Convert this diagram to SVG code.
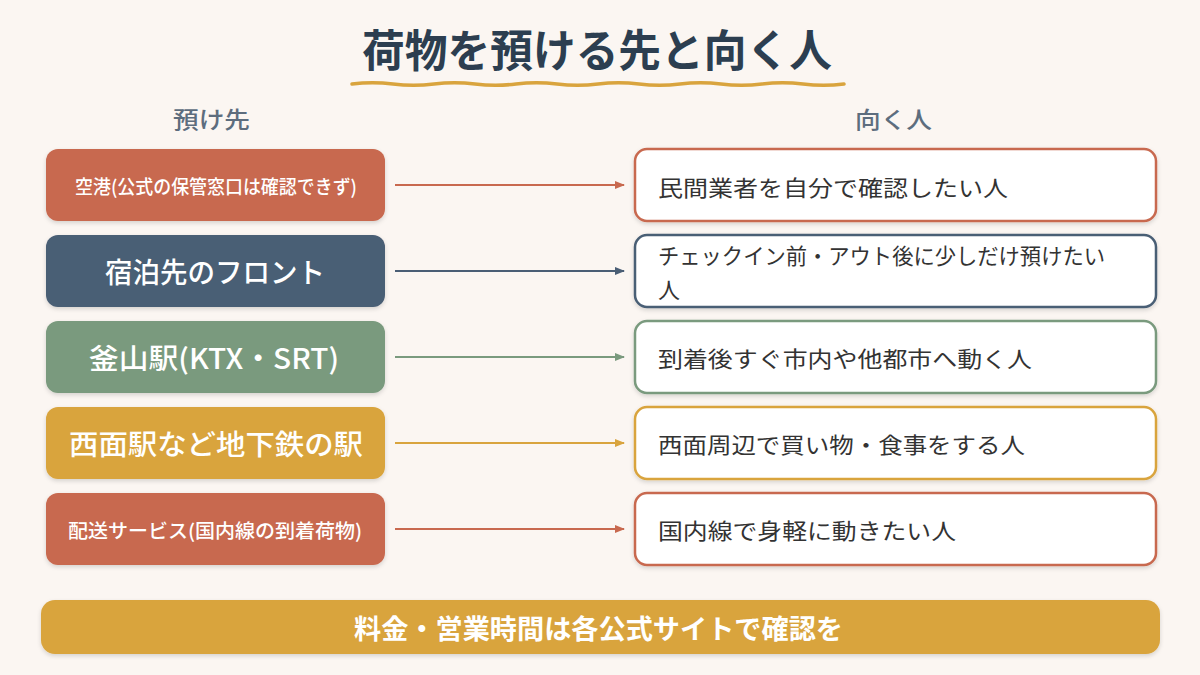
<svg xmlns="http://www.w3.org/2000/svg" width="1200" height="675" viewBox="0 0 1200 675">
<defs>
<filter id="sh" x="-10%" y="-20%" width="120%" height="150%"><feDropShadow dx="0" dy="2" stdDeviation="2" flood-color="#000" flood-opacity="0.15"/></filter>
<marker id="ah-t" markerWidth="10" markerHeight="8" refX="9" refY="4" orient="auto" markerUnits="userSpaceOnUse"><path d="M0,0 L10,4 L0,8 Z" fill="#C8694F"/></marker>
<marker id="ah-s" markerWidth="10" markerHeight="8" refX="9" refY="4" orient="auto" markerUnits="userSpaceOnUse"><path d="M0,0 L10,4 L0,8 Z" fill="#4A5E75"/></marker>
<marker id="ah-g" markerWidth="10" markerHeight="8" refX="9" refY="4" orient="auto" markerUnits="userSpaceOnUse"><path d="M0,0 L10,4 L0,8 Z" fill="#7A9A7E"/></marker>
<marker id="ah-y" markerWidth="10" markerHeight="8" refX="9" refY="4" orient="auto" markerUnits="userSpaceOnUse"><path d="M0,0 L10,4 L0,8 Z" fill="#D9A43E"/></marker>
</defs>
<style>
text{font-family:"Noto Sans CJK JP","Noto Sans",sans-serif}
.title{font-size:44px;font-weight:700;fill:#2C3E50}
.hdr{font-size:23px;font-weight:500;fill:#5D6D7E}
.lb{filter:url(#sh)}
.lt{fill:#fff;font-weight:500;dominant-baseline:central}
.s{font-size:19px}
.b{font-size:28px}
.rb{fill:#fff;stroke-width:2.5;filter:url(#sh)}
.rt{font-size:22px;fill:#333;dominant-baseline:central}
.ln{stroke-width:2;fill:none}
</style>
<rect width="1200" height="675" fill="#FBF6F2"/>
<g id="title">
<text class="title" x="362" y="67" textLength="470" lengthAdjust="spacingAndGlyphs">荷物を預ける先と向く人</text>
<path d="M352,84 q20.5,-2.5 41,0 t41,0 t41,0 t41,0 t41,0 t41,0 t41,0 t41,0 t41,0 t41,0 t41,0 t41,0" fill="none" stroke="#D9A43E" stroke-width="3.5" stroke-linecap="round"/>
</g>
<g id="headers">
<text class="hdr" x="173" y="128" textLength="77" lengthAdjust="spacingAndGlyphs">預け先</text>
<text class="hdr" x="855" y="128" textLength="77" lengthAdjust="spacingAndGlyphs">向く人</text>
</g>
<g id="src1"><rect class="lb" x="46" y="149" width="339" height="72" rx="12" fill="#C8694F"/><text class="lt s" x="75" y="185" textLength="282" lengthAdjust="spacingAndGlyphs">空港(公式の保管窓口は確認できず)</text></g>
<g id="src2"><rect class="lb" x="46" y="235" width="339" height="72" rx="12" fill="#4A5E75"/><text class="lt b" x="105" y="271" textLength="220" lengthAdjust="spacingAndGlyphs">宿泊先のフロント</text></g>
<g id="src3"><rect class="lb" x="46" y="321" width="339" height="72" rx="12" fill="#7A9A7E"/><text class="lt b" x="89" y="357" textLength="250" lengthAdjust="spacingAndGlyphs">釜山駅(KTX・SRT)</text></g>
<g id="src4"><rect class="lb" x="46" y="407" width="339" height="72" rx="12" fill="#D9A43E"/><text class="lt b" x="69" y="443" textLength="294" lengthAdjust="spacingAndGlyphs">西面駅など地下鉄の駅</text></g>
<g id="src5"><rect class="lb" x="46" y="493" width="339" height="72" rx="12" fill="#C8694F"/><text class="lt s" x="68" y="529" textLength="294" lengthAdjust="spacingAndGlyphs">配送サービス(国内線の到着荷物)</text></g>
<g id="dst1"><rect class="rb" x="635" y="149" width="521" height="72" rx="12" stroke="#C8694F"/><text class="rt" x="658" y="186" textLength="350" lengthAdjust="spacingAndGlyphs">民間業者を自分で確認したい人</text></g>
<g id="dst2"><rect class="rb" x="635" y="235" width="521" height="72" rx="12" stroke="#4A5E75"/><text class="rt" x="658" y="254" textLength="447" lengthAdjust="spacingAndGlyphs">チェックイン前・アウト後に少しだけ預けたい</text><text class="rt" x="658" y="288">人</text></g>
<g id="dst3"><rect class="rb" x="635" y="321" width="521" height="72" rx="12" stroke="#7A9A7E"/><text class="rt" x="658" y="357" textLength="374" lengthAdjust="spacingAndGlyphs">到着後すぐ市内や他都市へ動く人</text></g>
<g id="dst4"><rect class="rb" x="635" y="407" width="521" height="72" rx="12" stroke="#D9A43E"/><text class="rt" x="658" y="443" textLength="367" lengthAdjust="spacingAndGlyphs">西面周辺で買い物・食事をする人</text></g>
<g id="dst5"><rect class="rb" x="635" y="493" width="521" height="72" rx="12" stroke="#C8694F"/><text class="rt" x="658" y="529" textLength="298" lengthAdjust="spacingAndGlyphs">国内線で身軽に動きたい人</text></g>
<g id="connectors">
<line class="ln" x1="395" y1="185" x2="624" y2="185" stroke="#C8694F" marker-end="url(#ah-t)"/>
<line class="ln" x1="395" y1="271" x2="624" y2="271" stroke="#4A5E75" marker-end="url(#ah-s)"/>
<line class="ln" x1="395" y1="357" x2="624" y2="357" stroke="#7A9A7E" marker-end="url(#ah-g)"/>
<line class="ln" x1="395" y1="443" x2="624" y2="443" stroke="#D9A43E" marker-end="url(#ah-y)"/>
<line class="ln" x1="395" y1="529" x2="624" y2="529" stroke="#C8694F" marker-end="url(#ah-t)"/>
</g>
<g id="footer">
<rect x="41" y="600" width="1119" height="54" rx="14" fill="#D9A43E" filter="url(#sh)"/>
<text x="354" y="627" dominant-baseline="central" font-size="27" font-weight="700" fill="#fff" textLength="489" lengthAdjust="spacingAndGlyphs">料金・営業時間は各公式サイトで確認を</text>
</g>
</svg>
